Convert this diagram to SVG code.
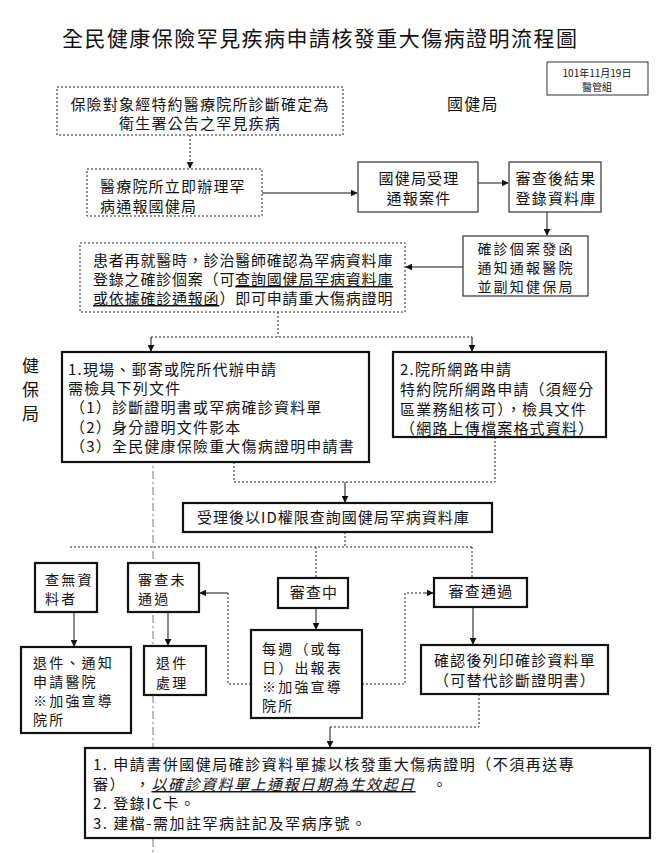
<svg xmlns="http://www.w3.org/2000/svg" width="670" height="853" viewBox="0 0 670 853">
<defs>
<marker id="ah" viewBox="0 0 10 10" refX="9" refY="5" markerWidth="7" markerHeight="7" orient="auto" markerUnits="userSpaceOnUse">
<path d="M0,0 L10,5 L0,10 z" fill="#111"/>
</marker>
</defs>
<style>
text{font-family:"Noto Sans CJK TC","Noto Sans CJK SC",sans-serif;fill:#111;font-size:15px;letter-spacing:1.2px}
.t{font-size:21px;letter-spacing:1.45px}
.s{font-size:14px;letter-spacing:2.2px}
.c{text-anchor:middle}
.dash{fill:#fff;stroke:#222;stroke-width:1;stroke-dasharray:2,2}
.thin{fill:#fff;stroke:#333;stroke-width:1.2}
.thick{fill:#fff;stroke:#111;stroke-width:2.2}
.ln{fill:none;stroke:#111;stroke-width:1}
.dl{fill:none;stroke:#222;stroke-width:1;stroke-dasharray:2,2}
.sep{fill:none;stroke:#555;stroke-width:0.8;stroke-dasharray:8,3,2,3}
</style>
<rect width="670" height="853" fill="#fff"/>

<text class="t" x="62" y="46">全民健康保險罕見疾病申請核發重大傷病證明流程圖</text>

<g id="date">
<rect x="547" y="62" width="101" height="33" fill="#fff" stroke="#333" stroke-width="1"/>
<text class="c" x="597" y="77" style="font-size:10px;letter-spacing:0">101年11月19日</text>
<text class="c" x="597" y="91" style="font-size:10px;letter-spacing:0">醫管組</text>
</g>

<text x="447" y="110" style="font-size:16px">國健局</text>
<g id="label-nhi">
<text class="c" x="31" y="372" style="font-size:17px">健</text>
<text class="c" x="31" y="396" style="font-size:17px">保</text>
<text class="c" x="31" y="420" style="font-size:17px">局</text>
</g>

<path class="sep" d="M153,455 V853"/>

<g id="connectors">
<path class="dl" d="M190,135 V168" marker-end="url(#ah)"/>
<path class="ln" d="M262,193 H357" marker-end="url(#ah)"/>
<path class="ln" d="M478,183 H508" marker-end="url(#ah)"/>
<path class="ln" d="M547,212 V235" marker-end="url(#ah)"/>
<path class="ln" d="M463,267 H406" marker-end="url(#ah)"/>
<path class="dl" d="M278,312 V337 M151,337 H472"/>
<path class="ln" d="M151,337 V351" marker-end="url(#ah)"/>
<path class="ln" d="M472,337 V351" marker-end="url(#ah)"/>
<path class="dl" d="M234,462 V482 H495 V437"/>
<path class="ln" d="M345,482 V502" marker-end="url(#ah)"/>
<path class="dl" d="M345,532 V547 M70,547 H472 M316,547 V578 M472,547 V578"/>
<path class="ln" d="M228,593 H200" marker-end="url(#ah)"/>
<path class="dl" d="M251,684 H228 V593"/>
<path class="ln" d="M74,612 V646" marker-end="url(#ah)"/>
<path class="ln" d="M168,612 V645" marker-end="url(#ah)"/>
<path class="ln" d="M316,608 V629" marker-end="url(#ah)"/>
<path class="dl" d="M362,684 H405 V593 H425"/>
<path class="ln" d="M425,593 H433" marker-end="url(#ah)"/>
<path class="ln" d="M473,607 V644" marker-end="url(#ah)"/>
<path class="dl" d="M479,694 V727 H330"/>
<path class="ln" d="M330,727 V747" marker-end="url(#ah)"/>
</g>

<g id="nodeA">
<rect class="dash" x="57" y="87" width="286" height="48"/>
<text class="c" x="200" y="110">保險對象經特約醫療院所診斷確定為</text>
<text class="c" x="200" y="129">衛生署公告之罕見疾病</text>
</g>
<g id="nodeB">
<rect class="dash" x="87" y="169" width="175" height="47"/>
<text x="100" y="192">醫療院所立即辦理罕</text>
<text x="100" y="212">病通報國健局</text>
</g>
<g id="nodeC">
<rect class="thin" x="358" y="162" width="120" height="50"/>
<text class="c" x="419" y="184">國健局受理</text>
<text class="c" x="419" y="204">通報案件</text>
</g>
<g id="nodeD">
<rect class="thin" x="509" y="162" width="92" height="50"/>
<text class="c" x="556" y="184">審查後結果</text>
<text class="c" x="556" y="204">登錄資料庫</text>
</g>
<g id="nodeE">
<rect class="thin" x="463" y="236" width="125" height="60"/>
<text class="c s" x="526" y="254">確診個案發函</text>
<text class="c s" x="526" y="273">通知通報醫院</text>
<text class="c s" x="526" y="292">並副知健保局</text>
</g>
<g id="nodeF">
<rect class="dash" x="80" y="243" width="325" height="69"/>
<text x="93" y="266" style="letter-spacing:0.8px">患者再就醫時，診治醫師確認為罕病資料庫</text>
<text x="93" y="285" style="letter-spacing:0.8px">登錄之確診個案（可<tspan text-decoration="underline">查詢國健局罕病資料庫</tspan></text>
<text x="93" y="304" style="letter-spacing:0.8px"><tspan text-decoration="underline">或依據確診通報函</tspan>）即可申請重大傷病證明</text>
</g>
<g id="node1">
<rect class="thick" x="62" y="352" width="307" height="110"/>
<text x="68" y="375">1.現場、郵寄或院所代辦申請</text>
<text x="68" y="394">需檢具下列文件</text>
<text x="70" y="413">（1）診斷證明書或罕病確診資料單</text>
<text x="70" y="433">（2）身分證明文件影本</text>
<text x="70" y="452">（3）全民健康保險重大傷病證明申請書</text>
</g>
<g id="node2">
<rect class="thick" x="393" y="352" width="213" height="85"/>
<text x="400" y="375">2.院所網路申請</text>
<text x="400" y="395">特約院所網路申請（須經分</text>
<text x="400" y="415">區業務組核可），檢具文件</text>
<text x="400" y="434">（網路上傳檔案格式資料）</text>
</g>
<g id="nodeG">
<rect class="thick" x="183" y="503" width="309" height="29"/>
<text x="197" y="523" style="letter-spacing:1px">受理後以ID權限查詢國健局罕病資料庫</text>
</g>
<g id="nodeNoData">
<rect class="thick" x="35" y="563" width="62" height="49"/>
<text class="s" x="45" y="585">查無資</text>
<text class="s" x="45" y="604">料者</text>
</g>
<g id="nodeFail">
<rect class="thick" x="128" y="563" width="71" height="49"/>
<text class="s" x="138" y="585">審查未</text>
<text class="s" x="138" y="604">通過</text>
</g>
<g id="nodeReturnNotify">
<rect class="thick" x="21" y="647" width="110" height="86"/>
<text class="s" x="33" y="668">退件、通知</text>
<text class="s" x="33" y="687">申請醫院</text>
<text class="s" x="33" y="706">※加強宣導</text>
<text class="s" x="33" y="725">院所</text>
</g>
<g id="nodeReturn">
<rect class="thick" x="144" y="646" width="62" height="49"/>
<text class="s" x="156" y="668">退件</text>
<text class="s" x="156" y="688">處理</text>
</g>
<g id="nodeReview">
<rect class="thick" x="278" y="578" width="70" height="30"/>
<text class="c" x="314" y="598">審查中</text>
</g>
<g id="nodeWeekly">
<rect class="thick" x="251" y="630" width="111" height="88"/>
<text class="s" x="262" y="654">每週（或每</text>
<text class="s" x="262" y="673">日）出報表</text>
<text class="s" x="262" y="692">※加強宣導</text>
<text class="s" x="262" y="711">院所</text>
</g>
<g id="nodePass">
<rect class="thick" x="434" y="578" width="93" height="29"/>
<text class="c" x="481" y="597">審查通過</text>
</g>
<g id="nodePrint">
<rect class="thick" x="421" y="645" width="187" height="49"/>
<text class="c" x="515" y="666">確認後列印確診資料單</text>
<text class="c" x="515" y="686">（可替代診斷證明書）</text>
</g>
<g id="nodeFinal">
<rect class="thick" x="85" y="748" width="565" height="90"/>
<text x="93" y="770" style="letter-spacing:1.5px">1. 申請書併國健局確診資料單據以核發重大傷病證明（不須再送專</text>
<text x="93" y="790" style="letter-spacing:1.5px">審）　，<tspan font-style="italic" text-decoration="underline">以確診資料單上通報日期為生效起日</tspan>　。</text>
<text x="93" y="809" style="letter-spacing:1.5px">2. 登錄IC卡。</text>
<text x="93" y="829" style="letter-spacing:1.5px">3. 建檔-需加註罕病註記及罕病序號。</text>
</g>
</svg>
